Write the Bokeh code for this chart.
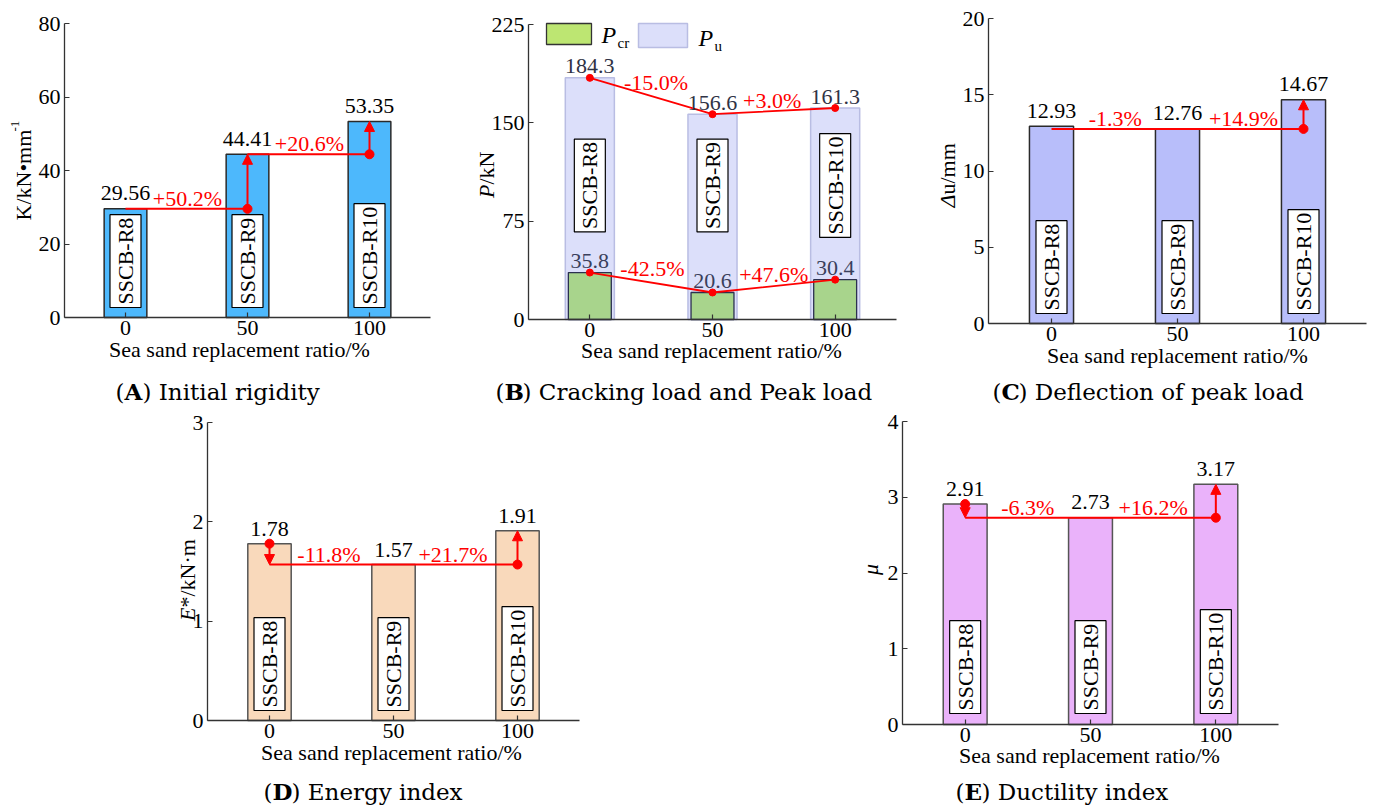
import math
from bokeh.plotting import figure
from bokeh.models import Range1d, FixedTicker, Label, Arrow, NormalHead, Spacer
from bokeh.layouts import row, column
from bokeh.core.properties import value
from bokeh.embed import file_html
from bokeh.resources import INLINE

# ---------------- data ----------------
ratio = [0, 50, 100]
specimens = ["SSCB-R8", "SSCB-R9", "SSCB-R10"]
K = [29.56, 44.41, 53.35]
K_pct = ["+50.2%", "+20.6%"]
P_cr = [35.8, 20.6, 30.4]
P_cr_pct = ["-42.5%", "+47.6%"]
P_u = [184.3, 156.6, 161.3]
P_u_pct = ["-15.0%", "+3.0%"]
delta_u = [12.93, 12.76, 14.67]
delta_u_pct = ["-1.3%", "+14.9%"]
E_star = [1.78, 1.57, 1.91]
E_star_pct = ["-11.8%", "+21.7%"]
mu = [2.91, 2.73, 3.17]
mu_pct = ["-6.3%", "+16.2%"]
yticks_K = [0, 20, 40, 60, 80]
yticks_P = [0, 75, 150, 225]
yticks_du = [0, 5, 10, 15, 20]
yticks_E = [0, 1, 2, 3]
yticks_mu = [0, 1, 2, 3, 4]
xlabel = "Sea sand replacement ratio/%"

SERIF = "Liberation Serif"
CAP = "DejaVu Serif"
RED = "#ff0000"
FS = "22px"
MID = 7.5  # px between alphabetic baseline and text middle (22px)


class Panel:
    def __init__(self, sx0, sy0, w, h, fl, fr, ft, fb, ymax, yticks):
        self.fl, self.fr, self.ft, self.fb, self.ymax = fl, fr, ft, fb, ymax
        p = figure(width=w, height=h,
                   x_range=Range1d(self.X(sx0), self.X(sx0 + w)),
                   y_range=Range1d(self.Y(sy0 + h), self.Y(sy0)),
                   output_backend="svg", toolbar_location=None,
                   min_border=0, min_border_left=0, min_border_right=0,
                   min_border_top=0, min_border_bottom=0)
        p.outline_line_color = None
        p.xgrid.visible = False
        p.ygrid.visible = False
        p.background_fill_color = "white"
        p.border_fill_color = "white"
        for ax in (p.xaxis[0], p.yaxis[0]):
            ax.axis_line_color = "#333333"
            ax.axis_line_width = 1.3
            ax.major_tick_line_color = "#333333"
            ax.major_tick_line_width = 1.2
            ax.major_tick_in = 5
            ax.major_tick_out = 0
            ax.minor_tick_line_color = None
            ax.major_label_text_font = SERIF
            ax.major_label_text_font_size = FS
            ax.major_label_text_color = "black"
        xa, ya = p.xaxis[0], p.yaxis[0]
        xa.ticker = FixedTicker(ticks=ratio)
        xa.major_label_standoff = 3
        xa.fixed_location = 0
        xa.bounds = (-25, 125)
        ya.ticker = FixedTicker(ticks=yticks)
        ya.major_label_standoff = 4
        ya.fixed_location = -25
        ya.bounds = (0, ymax)
        self.p = p

    def X(self, sx):
        return -25 + (sx - self.fl) / (self.fr - self.fl) * 150.0

    def Y(self, sy):
        return (self.fb - sy) / (self.fb - self.ft) * self.ymax

    def D(self, px):
        return px / (self.fb - self.ft) * self.ymax

    def label(self, sx, sy, text, size=FS, font=SERIF, style="normal", align="left",
              baseline="middle", angle=0.0, color="black"):
        self.p.add_layout(Label(x=self.X(sx), y=self.Y(sy), text=text, text_font=font,
                                text_font_size=size, text_font_style=style, text_align=align,
                                text_baseline=baseline, angle=angle, text_color=color))

    def bars(self, vals, fill, line, width=17.5, lw=1.5):
        self.p.vbar(x=ratio, top=vals, bottom=0, width=width, fill_color=fill,
                    line_color=line, line_width=lw)

    def values(self, vals, fmt, gap=8, color="black"):
        self.p.text(x=ratio, y=[v + self.D(gap + MID) for v in vals],
                    text=[fmt.format(v) for v in vals],
                    text_font=value(SERIF), text_font_size=FS, text_color=color,
                    text_align="center", text_baseline="middle")

    def boxes(self, y, align="left"):
        self.p.text(x=ratio, y=[y] * 3, text=specimens, angle=math.pi / 2,
                    text_font=value(SERIF), text_font_size=FS, text_color="black",
                    text_align=align, text_baseline="middle",
                    background_fill_color="white", border_line_color="black",
                    border_line_width=1.2, padding=3)

    def pct(self, xs, ys, texts, gap=3):
        self.p.text(x=xs, y=[y + self.D(gap + MID) for y in ys], text=texts,
                    text_font=value(SERIF), text_font_size=FS, text_color=RED,
                    text_align="center", text_baseline="middle")

    def arrow(self, x, y0, y1):
        self.p.add_layout(Arrow(end=NormalHead(size=10, fill_color=RED, line_color=RED, line_width=1),
                                x_start=x, y_start=y0, x_end=x, y_end=y1,
                                line_color=RED, line_width=2))

    def hline(self, x0, x1, y):
        self.p.line(x=[x0, x1], y=[y, y], line_color=RED, line_width=2)

    def dot(self, x, y, size=9):
        self.p.scatter(x=[x], y=[y], size=size, fill_color=RED, line_color=RED)

    def caption(self, sx, sy, letter, rest, wl):
        c = sy - 8
        self.label(sx, c, "(", size="23px", font=CAP)
        self.label(sx + 9, c, letter, size="23px", font=CAP, style="bold")
        self.label(sx + 9 + wl, c, ") " + rest, size="23px", font=CAP)

    def xtitle(self, sx, sy):
        self.label(sx, sy - MID, xlabel, align="center")


# ---------------- (A) ----------------
A = Panel(0, 0, 465, 408, 64, 430, 23, 317, 80, yticks_K)
A.bars(K, "#4db8fc", "#2a2a2a")
A.boxes(A.D(10))
A.values(K, "{:.2f}")
A.hline(ratio[0], ratio[1], K[0])
A.hline(ratio[1], ratio[2], K[1])
A.arrow(ratio[1], K[0], K[1])
A.arrow(ratio[2], K[1], K[2])
A.dot(ratio[1], K[0])
A.dot(ratio[2], K[1])
A.pct([25.4, 75.4], [K[0], K[1]], K_pct)
A.label(23, 220, "K/kN\u2022mm", angle=math.pi / 2)
A.label(14, 131, "-1", size="13px", angle=math.pi / 2)
A.xtitle(239, 356)
A.caption(115, 399, "A", "Initial rigidity", 18)

# ---------------- (B) ----------------
B = Panel(465, 0, 455, 408, 528, 896, 24, 319, 225, yticks_P)
B.bars(P_u, "#dcdffa", "#b9bde3", width=20, lw=1.5)
B.bars(P_cr, "#a8d48c", "#2b3050", width=17.5, lw=1.3)
B.boxes(B.Y(185), align="center")
B.p.line(x=ratio, y=P_u, line_color=RED, line_width=1.8)
B.p.line(x=ratio, y=P_cr, line_color=RED, line_width=1.8)
B.p.scatter(x=ratio, y=P_u, size=7, fill_color=RED, line_color=RED)
B.p.scatter(x=ratio, y=P_cr, size=7, fill_color=RED, line_color=RED)
B.values(P_u, "{:.1f}", gap=4, color="#2f3345")
B.values(P_cr, "{:.1f}", gap=4, color="#3a3f5c")


def lerp(vals, x):
    if x <= 50:
        return vals[0] + (vals[1] - vals[0]) * x / 50.0
    return vals[1] + (vals[2] - vals[1]) * (x - 50) / 50.0


B.pct([27], [lerp(P_u, 27)], [P_u_pct[0]], gap=7)
B.pct([74.3], [lerp(P_u, 74.3)], [P_u_pct[1]], gap=3)
B.pct([25.5], [lerp(P_cr, 25.5)], [P_cr_pct[0]], gap=7)
B.pct([75], [lerp(P_cr, 75)], [P_cr_pct[1]], gap=4)
# legend
B.p.quad(left=[B.X(546)], right=[B.X(591)], top=[B.Y(23)], bottom=[B.Y(44)],
         fill_color="#bde672", line_color="#333333", line_width=1.3)
B.p.quad(left=[B.X(638)], right=[B.X(687)], top=[B.Y(23)], bottom=[B.Y(47)],
         fill_color="#dcdffa", line_color="#b9bde3", line_width=1.5)
B.label(601, 42 - 8, "P", size="24px", style="italic")
B.label(617, 47 - 5, "cr", size="15px")
B.label(698, 45 - 8, "P", size="24px", style="italic")
B.label(714, 50 - 5, "u", size="15px")
B.label(486, 184, "P", style="italic", align="right", angle=math.pi / 2)
B.label(486, 184, "/kN", align="left", angle=math.pi / 2)
B.xtitle(711, 357)
B.caption(495, 399, "B", "Cracking load and Peak load", 18)

# ---------------- (C) ----------------
C = Panel(920, 0, 455, 408, 988, 1366, 18, 323, 20, yticks_du)
C.bars(delta_u, "#b8befa", "#2a2a2a")
C.boxes(C.D(10))
C.values(delta_u, "{:.2f}")
C.hline(ratio[0], ratio[2], delta_u[1])
C.arrow(ratio[2], delta_u[1], delta_u[2])
C.dot(ratio[2], delta_u[1])
C.pct([25.3, 76.2], [delta_u[1], delta_u[1]], delta_u_pct)
C.label(947, 194, "\u0394", style="italic", align="right", angle=math.pi / 2)
C.label(947, 194, "u/mm", align="left", angle=math.pi / 2)
C.xtitle(1177, 362)
C.caption(992, 399, "C", "Deflection of peak load", 17)

# ---------------- (D) ----------------
Dp = Panel(150, 408, 470, 401, 207, 579, 422, 720, 3, yticks_E)
Dp.bars(E_star, "#f9d9bb", "#555555")
Dp.boxes(Dp.D(10))
Dp.values(E_star, "{:.2f}", gap=7)
Dp.hline(ratio[0], ratio[2], E_star[1])
Dp.arrow(ratio[0], E_star[0], E_star[1])
Dp.arrow(ratio[2], E_star[1], E_star[2])
Dp.dot(ratio[0], E_star[0])
Dp.dot(ratio[2], E_star[1])
Dp.pct([24, 74], [E_star[1], E_star[1]], E_star_pct)
Dp.label(187, 607, "E", style="italic", align="right", angle=math.pi / 2)
Dp.label(187, 607, "*/kN\u00b7m", align="left", angle=math.pi / 2)
Dp.xtitle(391, 759)
Dp.caption(263, 799, "D", "Energy index", 19)

# ---------------- (E) ----------------
Ep = Panel(845, 408, 460, 401, 902, 1278, 421, 724, 4, yticks_mu)
Ep.bars(mu, "#eab2fa", "#555555")
Ep.boxes(Ep.D(11))
Ep.values(mu, "{:.2f}")
Ep.hline(ratio[0], ratio[2], mu[1])
Ep.arrow(ratio[0], mu[0], mu[1])
Ep.arrow(ratio[2], mu[1], mu[2])
Ep.dot(ratio[0], mu[0])
Ep.dot(ratio[2], mu[1])
Ep.pct([25, 75], [mu[1], mu[1]], mu_pct)
Ep.label(870, 569, "\u03bc", style="italic", align="center", angle=math.pi / 2)
Ep.xtitle(1089, 762)
Ep.caption(955, 799, "E", "Ductility index", 17)

top = row(A.p, B.p, C.p)
bottom = row(Spacer(width=150, height=401), Dp.p, Spacer(width=225, height=401), Ep.p)
layout = column(top, bottom)

open("out.html", "w").write(file_html(layout, INLINE))
